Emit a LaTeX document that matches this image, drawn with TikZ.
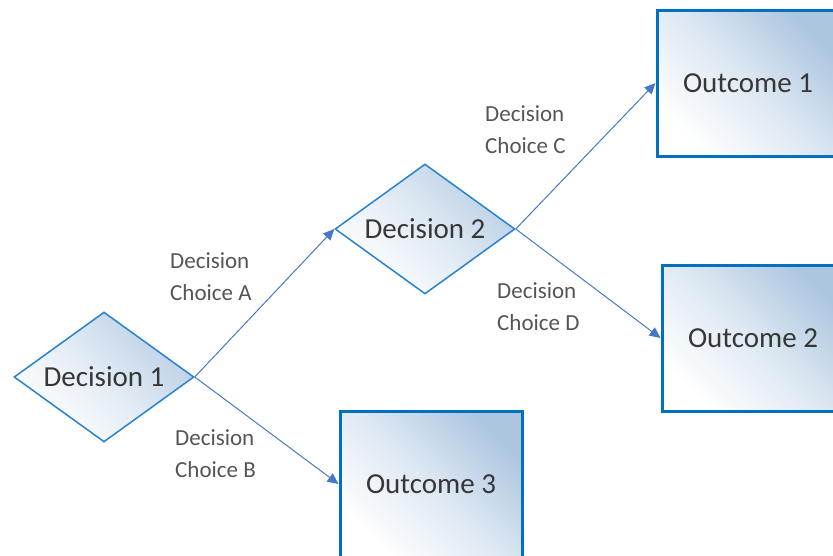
\documentclass[tikz,border=0pt]{standalone}
\usepackage{fontspec}
\setmainfont{Carlito}
\usetikzlibrary{arrows.meta}
\usetikzlibrary{shapes.geometric}

\definecolor{lineblue}{RGB}{0,112,192}
\definecolor{diamondblue}{RGB}{40,130,205}
\definecolor{arrowblue}{RGB}{72,118,200}
\definecolor{shadeblue}{RGB}{172,198,224}
\definecolor{textgray}{RGB}{55,55,55}

\begin{document}
\begin{tikzpicture}[x=1pt, y=-1pt,
	decision/.style={diamond, draw=diamondblue, line width=1.5pt, bottom color=white, top color=shadeblue!85, middle color=shadeblue!35, shading angle=-45,
		minimum width=180pt, minimum height=130pt, aspect=1.38, inner sep=1pt, text=textgray, font=\fontsize{29}{34}\selectfont},
	outcome/.style={rectangle, draw=lineblue, line width=3pt, bottom color=white, top color=shadeblue, middle color=shadeblue!40, shading angle=-45,
		minimum width=182pt, minimum height=146pt, text=textgray, font=\fontsize{29}{34}\selectfont},
	choice/.style={align=left, anchor=west, inner sep=0pt, text=textgray!85, font=\fontsize{23}{32}\selectfont},
	link/.style={draw=arrowblue, line width=1pt, -{Triangle[length=11pt, width=10pt]}}]
	\useasboundingbox (0,0) rectangle (833,555);
	\clip (0,0) rectangle (833,555);

	\node[decision] (dec1) at (104,377) {Decision 1};
	\node[decision] (dec2) at (425,229) {Decision 2};

	\node[outcome] (out1) at (748,83) {Outcome 1};
	\node[outcome] (out2) at (753,338) {Outcome 2};
	\node[outcome] (out3) at (431,484) {Outcome 3};

	\draw[link] (dec1.east) -- (dec2.west);
	\draw[link] (dec1.east) -- (out3.west);
	\draw[link] (dec2.east) -- (out1.west);
	\draw[link] (dec2.east) -- (out2.west);

	\node[choice] (choiceA) at (170,277) {Decision\\Choice A};
	\node[choice] (choiceB) at (175,454) {Decision\\Choice B};
	\node[choice] (choiceC) at (485,130) {Decision\\Choice C};
	\node[choice] (choiceD) at (497,307) {Decision\\Choice D};
\end{tikzpicture}
\end{document}
